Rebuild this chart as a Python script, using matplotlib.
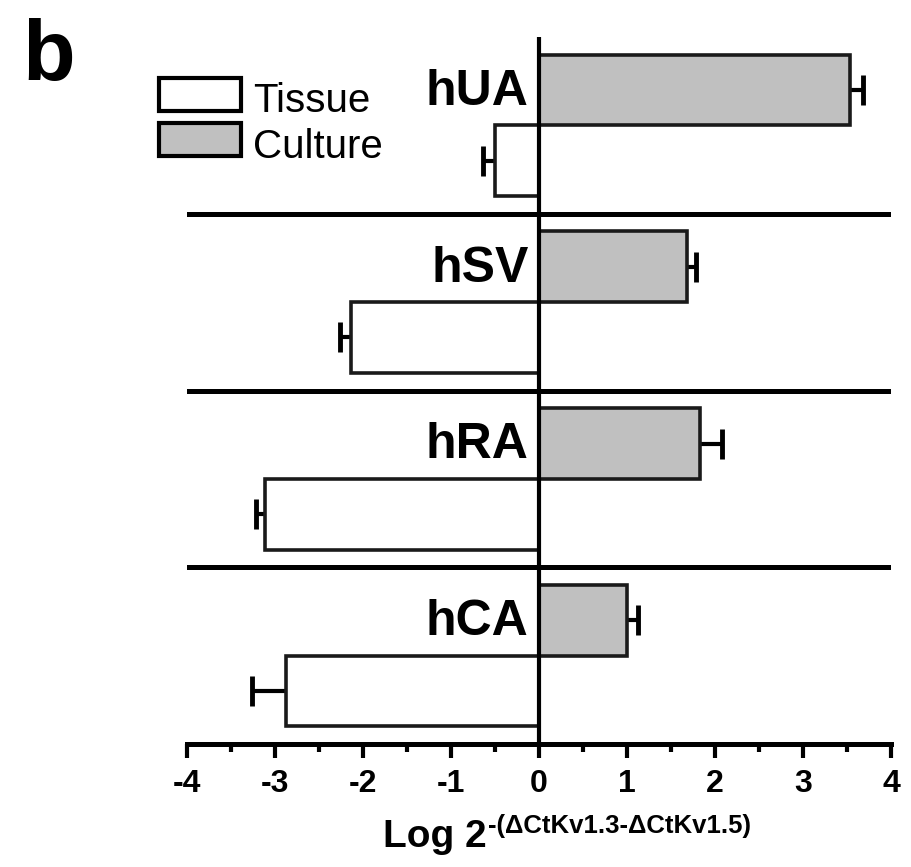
import numpy as np
import matplotlib.pyplot as plt
from matplotlib.patches import Rectangle
from matplotlib.ticker import MultipleLocator

plt.rcParams['font.family'] = ['Liberation Sans', 'DejaVu Sans']
plt.rcParams['axes.unicode_minus'] = False

# groups listed top to bottom
groups = ['hUA', 'hSV', 'hRA', 'hCA']
culture = [3.53, 1.68, 1.83, 1.00]
culture_err = [0.15, 0.10, 0.25, 0.12]
tissue = [-0.50, -2.14, -3.11, -2.88]
tissue_err = [0.14, 0.12, 0.11, 0.38]

W, H = 911, 867
fig = plt.figure(figsize=(W / 100, H / 100), dpi=100)
ax = fig.add_axes([187 / W, 1 - 744 / H, 704 / W, 707 / H])

n = len(groups)
tops = n - np.arange(n)          # top edge of each group band
y_cult = tops - 0.30
y_tis = tops - 0.70
bar_h = 0.40

edge = '#1a1a1a'
ax.barh(y_cult, culture, height=bar_h, color='#c0c0c0', edgecolor=edge,
        linewidth=2.6, zorder=2)
ax.barh(y_tis, tissue, height=bar_h, color='white', edgecolor=edge,
        linewidth=2.6, zorder=2)
# symmetric error bars, inner half hidden behind the bars
ax.errorbar(culture, y_cult, xerr=culture_err, fmt='none', ecolor='black',
            elinewidth=3, capsize=10.5, capthick=3.5, zorder=1)
ax.errorbar(tissue, y_tis, xerr=tissue_err, fmt='none', ecolor='black',
            elinewidth=3, capsize=10.5, capthick=3.5, zorder=1)

for t, g in zip(tops, groups):
    ax.text(-0.12, t - 0.384, g, ha='right', va='baseline', fontsize=36,
            fontweight='bold', zorder=4)

for t in tops[1:]:
    ax.axhline(t, color='black', linewidth=3.6, zorder=3)
ax.axvline(0, color='black', linewidth=3.0, zorder=3)

ax.set_xlim(-4, 4)
ax.set_ylim(0, n)
ax.xaxis.set_major_locator(MultipleLocator(1))
ax.xaxis.set_minor_locator(MultipleLocator(0.5))
ax.tick_params(axis='x', which='major', length=10, width=3, pad=8,
               labelsize=23)
ax.tick_params(axis='x', which='minor', length=6, width=3)
for lab in ax.get_xticklabels():
    lab.set_fontweight('bold')
ax.set_yticks([])
for s in ['left', 'right', 'top']:
    ax.spines[s].set_visible(False)
ax.spines['bottom'].set_linewidth(3.6)

# legend drawn by hand
def box(x0, y0, x1, y1, fc):
    fig.add_artist(Rectangle((x0 / W, 1 - y1 / H), (x1 - x0) / W, (y1 - y0) / H,
                             transform=fig.transFigure, facecolor=fc,
                             edgecolor='black', linewidth=3))

box(159, 78, 241, 111, 'white')
box(159, 123, 241, 156, '#c0c0c0')
fig.text(253 / W, 1 - 112 / H, 'Tissue', fontsize=29, va='baseline')
fig.text(253 / W, 1 - 158 / H, 'Culture', fontsize=29, va='baseline')

fig.text(22 / W, 1 - 80 / H, 'b', fontsize=62, fontweight='bold', va='baseline')

# axis title: main part, then the superscript right after it
main = fig.text(383 / W, 1 - 847 / H, 'Log 2', fontsize=28, fontweight='bold',
                va='baseline')
fig.canvas.draw()
bb = main.get_window_extent()
fig.text((bb.x1 + 1) / W, 1 - 833 / H, '-(\u0394CtKv1.3-\u0394CtKv1.5)',
         fontsize=18.5, fontweight='bold', va='baseline')

fig.savefig('out.png', dpi=100)
